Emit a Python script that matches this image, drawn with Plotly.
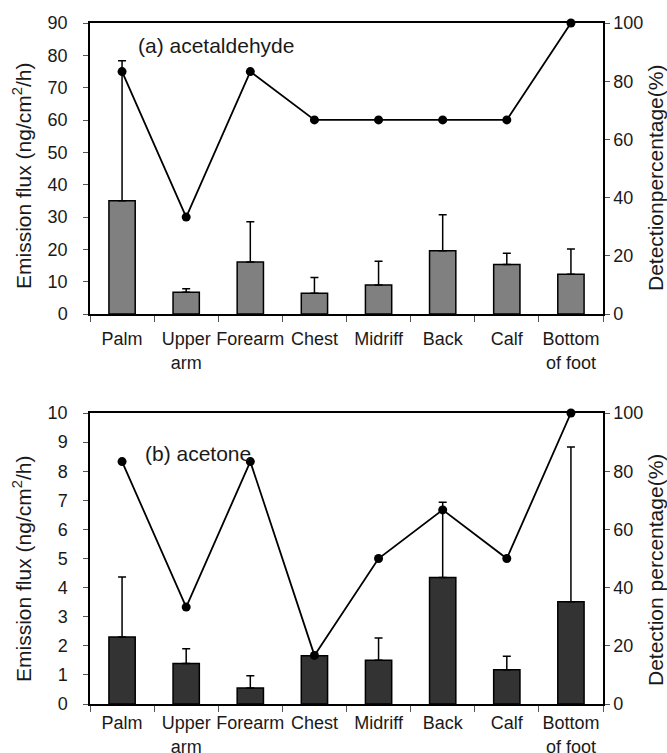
import plotly.graph_objects as go

categories = ["Palm", "Upper<br>arm", "Forearm", "Chest", "Midriff", "Back", "Calf", "Bottom<br>of foot"]

# (a) acetaldehyde
acetaldehyde_flux = [35.0, 6.7, 16.1, 6.4, 9.0, 19.6, 15.3, 12.3]
acetaldehyde_err = [43.3, 1.1, 12.4, 4.9, 7.3, 11.1, 3.5, 7.8]
acetaldehyde_detect = [83.3, 33.3, 83.3, 66.7, 66.7, 66.7, 66.7, 100.0]

# (b) acetone
acetone_flux = [2.30, 1.39, 0.55, 1.66, 1.50, 4.35, 1.18, 3.51]
acetone_err = [2.06, 0.51, 0.42, 0.0, 0.77, 2.58, 0.46, 5.32]
acetone_detect = [83.3, 33.3, 83.3, 16.7, 50.0, 66.7, 50.0, 100.0]

W, H = 667, 753
FONT = "Liberation Sans, Arial, sans-serif"
TXT = "#1a1a1a"

x0, x1 = 90 / W, 603 / W
top_dom = [(H - 314) / H, (H - 23) / H]
bot_dom = [(H - 704) / H, (H - 413) / H]

fig = go.Figure()

def add_panel(flux, err, detect, color, xa, ya, ya2):
    fig.add_trace(go.Bar(
        x=categories, y=flux, width=0.41,
        marker=dict(color=color, line=dict(color="black", width=1.5)),
        error_y=dict(type="data", array=err, arrayminus=[0] * len(err), symmetric=False,
                     color="black", thickness=1.5, width=4),
        xaxis=xa, yaxis=ya, showlegend=False,
    ))
    fig.add_trace(go.Scatter(
        x=categories, y=detect, mode="lines+markers",
        line=dict(color="black", width=1.8),
        marker=dict(color="black", size=9),
        xaxis=xa, yaxis=ya2, showlegend=False, cliponaxis=False,
    ))

add_panel(acetaldehyde_flux, acetaldehyde_err, acetaldehyde_detect, "#808080", "x", "y", "y2")
add_panel(acetone_flux, acetone_err, acetone_detect, "#333333", "x2", "y3", "y4")

xcommon = dict(type="category", tickson="boundaries", ticks="outside", ticklen=6,
               tickcolor="#555", showline=True, linecolor="black", linewidth=1.5,
               mirror=True, showgrid=False, tickfont=dict(size=18, color=TXT, family=FONT),
               range=[-0.5, 7.5], tickangle=0, automargin=False)
ycommon_left = dict(showline=True, linecolor="black", linewidth=1.5, ticks="outside",
                    ticklen=5, tickcolor="#555", showgrid=False, zeroline=False,
                    tickfont=dict(size=18, color=TXT, family=FONT), automargin=False,
                    ticklabelstandoff=12)
ycommon_right = dict(ycommon_left, side="right", range=[0, 100], tick0=0, dtick=20,
                     ticklabelstandoff=0)

title_font = dict(size=21, color=TXT, family=FONT)
flux_title = "Emission flux (ng/cm<sup>2</sup>/h)"


def vtitle(text, px, py):
    return dict(text=text, xref="paper", yref="paper", x=px / W, y=1 - py / H,
                xanchor="center", yanchor="middle", textangle=-90,
                showarrow=False, font=title_font)


fig.update_layout(
    width=W, height=H,
    margin=dict(l=0, r=0, t=0, b=0),
    paper_bgcolor="white", plot_bgcolor="white",
    bargap=0.6,
    xaxis=dict(xcommon, domain=[x0, x1], anchor="y", ticklabelstandoff=8),
    yaxis=dict(ycommon_left, domain=top_dom, range=[0, 90], dtick=10),
    yaxis2=dict(ycommon_right, overlaying="y", anchor="x"),
    xaxis2=dict(xcommon, domain=[x0, x1], anchor="y3", ticklabelstandoff=2),
    yaxis3=dict(ycommon_left, domain=bot_dom, range=[0, 10], dtick=1, anchor="x2"),
    yaxis4=dict(ycommon_right, overlaying="y3", anchor="x2"),
    annotations=[
        dict(text="(a) acetaldehyde", xref="x domain", yref="y domain", x=0.245, y=0.924,
             xanchor="center", yanchor="middle",
             showarrow=False, font=dict(size=21, color=TXT, family=FONT)),
        dict(text="(b) acetone", xref="x2 domain", yref="y3 domain", x=0.211, y=0.862,
             xanchor="center", yanchor="middle",
             showarrow=False, font=dict(size=21, color=TXT, family=FONT)),
        vtitle(flux_title, 22, 176),
        vtitle(flux_title, 22, 569),
        vtitle("Detectionpercentage(%)", 655, 178),
        vtitle("Detection percentage(%)", 655, 570),
    ],
)

fig.write_html(
    "out.html",
    config={"displayModeBar": False},
    post_script="document.body.style.margin='0';document.body.style.overflow='hidden';",
)
